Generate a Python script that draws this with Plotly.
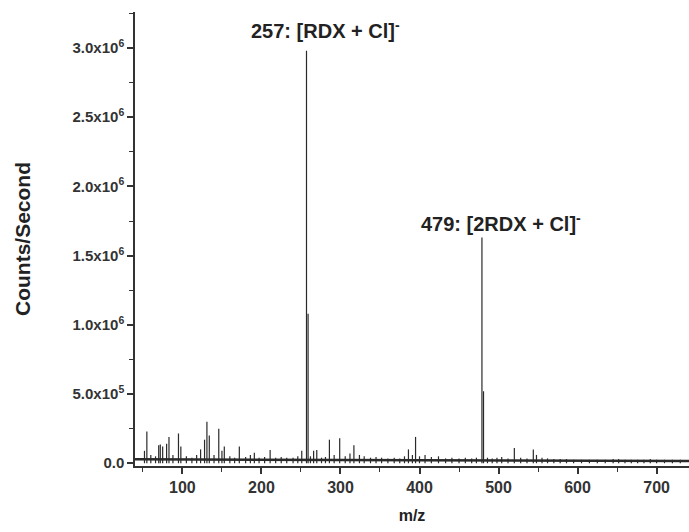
import plotly.graph_objects as go

# ---- data ----
peak_mz = [52, 55, 60, 66, 70, 72, 75, 80, 83, 88, 95, 98, 105, 112, 118, 123, 128, 131, 134,
           140, 146, 150, 153, 160, 166, 172, 180, 186, 191, 197, 204, 211, 218, 225, 232, 240,
           246, 251, 257, 259, 262, 266, 270, 276, 281, 286, 292, 299, 306, 312, 317, 324, 330,
           338, 345, 352, 360, 368, 375, 381, 386, 391, 395, 400, 407, 415, 424, 433, 441, 450,
           458, 466, 472, 479, 481, 486, 492, 498, 504, 512, 520, 528, 536, 544, 548, 555, 562,
           570, 578, 586, 595, 605, 615, 625, 635, 645, 652, 660, 668, 676, 684, 692, 700, 710,
           720, 730]
peak_counts = [90000, 230000, 60000, 50000, 130000, 135000, 120000, 140000, 190000, 60000,
               215000, 120000, 50000, 40000, 60000, 100000, 170000, 300000, 200000, 60000,
               250000, 90000, 120000, 50000, 40000, 120000, 45000, 60000, 75000, 40000, 45000,
               95000, 40000, 45000, 40000, 40000, 50000, 90000, 2980000, 1080000, 50000, 90000,
               95000, 40000, 45000, 170000, 60000, 180000, 50000, 70000, 130000, 60000, 50000,
               40000, 45000, 40000, 35000, 40000, 35000, 50000, 100000, 60000, 190000, 50000,
               60000, 45000, 50000, 35000, 40000, 35000, 40000, 35000, 40000, 1630000, 520000,
               40000, 35000, 40000, 45000, 35000, 110000, 40000, 35000, 100000, 60000, 40000,
               35000, 30000, 30000, 30000, 25000, 25000, 25000, 25000, 25000, 30000, 30000,
               25000, 25000, 25000, 25000, 30000, 25000, 25000, 25000, 25000]
baseline_mz = [40, 100, 200, 300, 400, 500, 600, 741]
baseline_counts = [28000, 28000, 26000, 24000, 22000, 20000, 18000, 16000]

y_tickvals = [0, 500000, 1000000, 1500000, 2000000, 2500000, 3000000]
y_ticktext = ["0.0", "5.0x10<sup>5</sup>", "1.0x10<sup>6</sup>", "1.5x10<sup>6</sup>",
              "2.0x10<sup>6</sup>", "2.5x10<sup>6</sup>", "3.0x10<sup>6</sup>"]
x_tickvals = [100, 200, 300, 400, 500, 600, 700]

labels = ["257: [RDX + Cl]<sup>-</sup>", "479: [2RDX + Cl]<sup>-</sup>"]
label_x = [281, 503]
label_y = [3130000, 1740000]

# ---- build stick spectrum ----
sx, sy = [], []
for m, c in zip(peak_mz, peak_counts):
    sx += [m, m, None]
    sy += [0, c, None]

FONT = "Liberation Sans, Arial, sans-serif"
fig = go.Figure()
fig.add_trace(go.Scatter(x=baseline_mz, y=baseline_counts, mode="lines",
                         line=dict(color="#2a2a2a", width=2.5), hoverinfo="skip"))
fig.add_trace(go.Scatter(x=sx, y=sy, mode="lines",
                         line=dict(color="#2a2a2a", width=1.2), connectgaps=False))

for t, x, y in zip(labels, label_x, label_y):
    fig.add_annotation(x=x, y=y, text="<b>" + t + "</b>", showarrow=False,
                       xanchor="center", yanchor="middle",
                       font=dict(family=FONT, size=20, color="#222"))

fig.update_layout(
    width=689, height=532,
    margin=dict(l=135, r=0, t=12, b=66, autoexpand=False),
    paper_bgcolor="white", plot_bgcolor="white",
    showlegend=False,
    font=dict(family=FONT, color="#333"),
)
fig.update_xaxes(
    range=[40, 741], showgrid=False, zeroline=False, automargin=False,
    showline=True, linecolor="#333", linewidth=1.5,
    tickmode="array", tickvals=x_tickvals,
    ticktext=["<b>%d</b>" % v for v in x_tickvals],
    ticks="outside", ticklen=6, tickwidth=1.5, tickcolor="#333",
    minor=dict(tickmode="linear", tick0=50, dtick=100, ticks="outside",
               ticklen=4, tickwidth=1.2, tickcolor="#333"),
    tickfont=dict(family=FONT, size=16, color="#333"),
    title=dict(text="<b>m/z</b>", font=dict(family=FONT, size=16, color="#222"), standoff=15),
)
fig.update_yaxes(
    range=[-20000, 3260000], showgrid=False, zeroline=False, automargin=False,
    showline=True, linecolor="#333", linewidth=1.5,
    tickmode="array", tickvals=y_tickvals,
    ticktext=["<b>" + t + "</b>" for t in y_ticktext],
    ticks="outside", ticklen=6, tickwidth=1.5, tickcolor="#333",
    minor=dict(tickmode="linear", tick0=250000, dtick=500000, ticks="outside",
               ticklen=4, tickwidth=1.2, tickcolor="#333"),
    tickfont=dict(family=FONT, size=15, color="#333"),
    title=dict(text="<b>Counts/Second</b>", font=dict(family=FONT, size=21, color="#222"),
               standoff=36),
)
fig.write_html("out.html", config={"displayModeBar": False},
               post_script="document.body.style.margin='0px';")
